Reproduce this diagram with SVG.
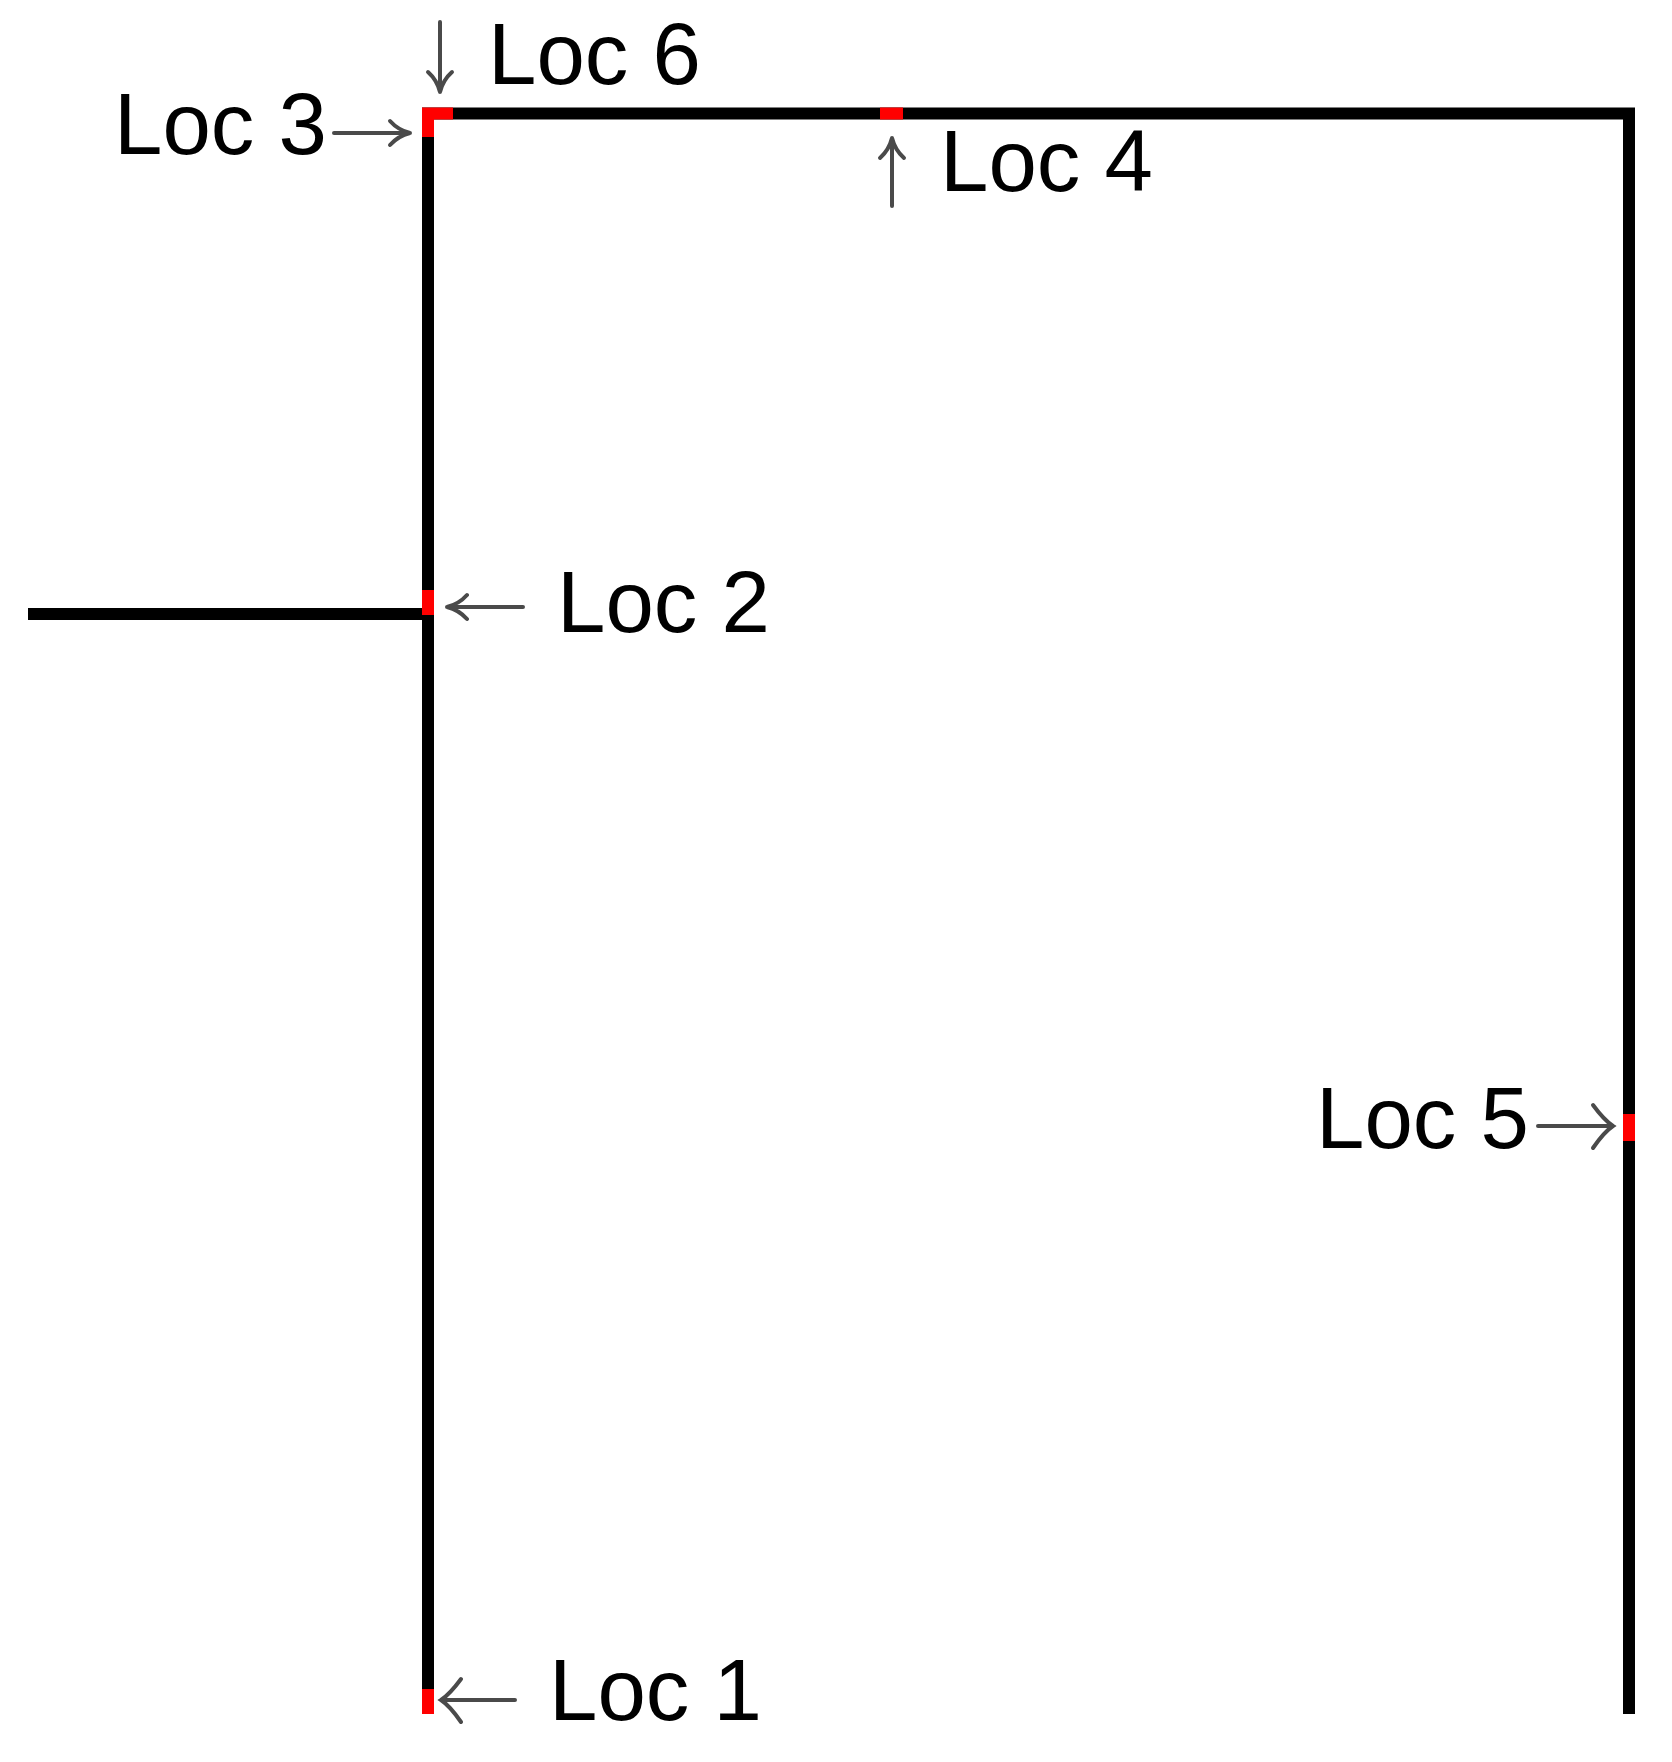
<svg xmlns="http://www.w3.org/2000/svg" width="1672" height="1762" viewBox="0 0 1672 1762">
<style>
.wall{stroke:#000;stroke-width:12;fill:none;stroke-linecap:butt}
.mark{stroke:#ff0000;stroke-width:12;fill:none}
.arr{stroke:#4a4a4a;stroke-width:4;fill:none;stroke-linecap:round}
.lbl{font-family:"Liberation Sans",Arial,sans-serif;font-size:87px;fill:#000}
</style>
<rect width="1672" height="1762" fill="#fff"/>
<g id="frame">
<path class="wall" d="M428,1714 V113.5 H1629 V1714"/>
<path class="wall" d="M28,614 H428"/>
</g>
<g id="markers">
<path class="mark" d="M428,137 V113.5 H453"/>
<path class="mark" d="M880,113.5 H903"/>
<path class="mark" d="M428,590 V615"/>
<path class="mark" d="M1629,1114 V1141"/>
<path class="mark" d="M428,1689 V1714"/>
</g>
<g id="connectors">
<path class="arr" d="M440,22 V92 M428,72 Q437,80 440,92 Q443,80 452,72"/>
<path class="arr" d="M334,133 H410 M390,121 Q398,130 410,133 Q398,136 390,145"/>
<path class="arr" d="M892,206 V138 M880,158 Q889,150 892,138 Q895,150 904,158"/>
<path class="arr" d="M523,607 H447 M467,595 Q459,604 447,607 Q459,610 467,619"/>
<path class="arr" d="M1538,1126 H1613 M1593,1105 Q1604,1120 1613,1126 Q1604,1132 1593,1148"/>
<path class="arr" d="M515,1700 H441 M461,1679 Q450,1694 441,1700 Q450,1706 461,1722"/>
</g>
<g id="loc6"><text class="lbl" x="488" y="84">Loc 6</text></g>
<g id="loc3"><text class="lbl" x="114" y="154">Loc 3</text></g>
<g id="loc4"><text class="lbl" x="940" y="191">Loc 4</text></g>
<g id="loc2"><text class="lbl" x="557" y="632">Loc 2</text></g>
<g id="loc5"><text class="lbl" x="1316" y="1148">Loc 5</text></g>
<g id="loc1"><text class="lbl" x="549" y="1720">Loc 1</text></g>
</svg>
